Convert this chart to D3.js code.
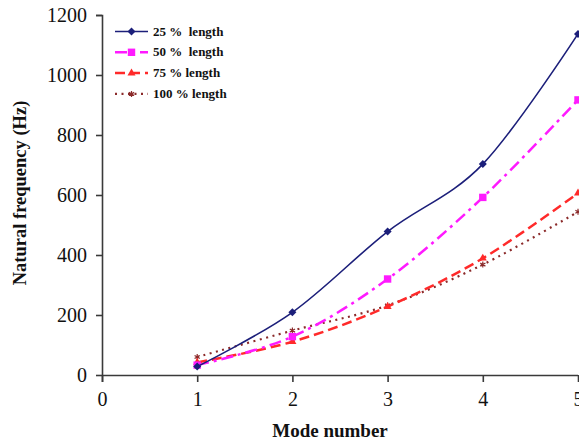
<!DOCTYPE html>
<html><head><meta charset="utf-8">
<script src="https://cdn.jsdelivr.net/npm/d3@7"></script>
<style>body{margin:0;background:#fff}svg{display:block}</style>
</head><body>
<svg id="c" width="579" height="442"></svg>
<script>
const modes = [1, 2, 3, 4, 5];
const len25 = [28, 209, 478, 703, 1137];
const len50 = [33, 128, 320, 592, 917];
const len75 = [42, 111, 228, 389, 606];
const len100 = [60, 148, 232, 368, 544];
const seriesNames = ["25 %  length", "50 %  length", "75 % length", "100 % length"];
const xTicks = [0, 1, 2, 3, 4, 5];
const yTicks = [0, 200, 400, 600, 800, 1000, 1200];

const svg = d3.select("#c");
const x = d3.scaleLinear().domain([0, 5]).range([102, 578]);
const y = d3.scaleLinear().domain([0, 1200]).range([375, 15]);
const font = "'Liberation Serif','Times New Roman',serif";
const axisColor = "#3a3a3a";

// axes
const yAxis = svg.append("g").attr("transform", "translate(102,0)")
  .call(d3.axisLeft(y).tickValues(yTicks).tickSize(6).tickPadding(9).tickFormat(d3.format("d")));
const xAxis = svg.append("g").attr("transform", "translate(0,375)")
  .call(d3.axisBottom(x).tickValues(xTicks).tickSize(7).tickPadding(10).tickFormat(d3.format("d")));
[yAxis, xAxis].forEach(a => {
  a.select(".domain").attr("stroke", axisColor).attr("stroke-width", 1.6);
  a.selectAll(".tick line").attr("stroke", axisColor).attr("stroke-width", 1.6);
  a.selectAll(".tick text").attr("font-family", font).attr("font-size", 20).attr("fill", "#111");
});
yAxis.select(".domain").attr("d", "M-6,15.5H0.5V382");
xAxis.select(".domain").attr("d", "M102,0.5H578");

svg.append("text").attr("x", 330).attr("y", 437).attr("text-anchor", "middle")
  .attr("font-family", font).attr("font-weight", "bold").attr("font-size", 19).attr("fill", "#111")
  .text("Mode number");
svg.append("text").attr("transform", "translate(26,193) rotate(-90)").attr("text-anchor", "middle")
  .attr("font-family", font).attr("font-weight", "bold").attr("font-size", 18.5).attr("fill", "#111")
  .text("Natural frequency (Hz)");

const series = [
  {name: seriesNames[0], vals: len25, color: "#1c1f7a", width: 1.6, dash: null, marker: "diamond"},
  {name: seriesNames[1], vals: len50, color: "#ff1aff", width: 2.5, dash: "12,5,3,5", marker: "square"},
  {name: seriesNames[2], vals: len75, color: "#ff2a2a", width: 2.5, dash: "10,5", marker: "triangle"},
  {name: seriesNames[3], vals: len100, color: "#8b2a2a", width: 2.2, dash: "2,4.5", marker: "star"}
];

const line = d3.line().x(d => x(d[0])).y(d => y(d[1])).curve(d3.curveCardinal.tension(0));
const diamond = { draw(ctx, size) { const r = Math.sqrt(size) / 1.5; ctx.moveTo(0, -r); ctx.lineTo(r, 0); ctx.lineTo(0, r); ctx.lineTo(-r, 0); ctx.closePath(); } };
const symbols = {
  diamond: d3.symbol().type(diamond).size(36),
  square: d3.symbol().type(d3.symbolSquare).size(55),
  triangle: d3.symbol().type(d3.symbolTriangle).size(28),
  star: d3.symbol().type(d3.symbolAsterisk || d3.symbolCross).size(25)
};

// draw in reverse order so 25% is on top
series.slice().reverse().forEach(s => {
  const pts = modes.map((m, i) => [m, s.vals[i]]);
  svg.append("path").attr("d", line(pts)).attr("fill", "none")
    .attr("stroke", s.color).attr("stroke-width", s.width)
    .attr("stroke-dasharray", s.dash);
  svg.selectAll(null).data(pts).enter().append("path")
    .attr("transform", d => `translate(${x(d[0])},${y(d[1])})`)
    .attr("d", symbols[s.marker]())
    .attr("fill", s.marker === "star" ? "none" : s.color)
    .attr("stroke", s.marker === "star" ? s.color : "none")
    .attr("stroke-width", 1.2);
});

// legend
const lg = svg.append("g");
series.forEach((s, i) => {
  const yy = 31.5 + i * 20.8;
  lg.append("line").attr("x1", 115).attr("x2", 148).attr("y1", yy).attr("y2", yy)
    .attr("stroke", s.color).attr("stroke-width", s.width)
    .attr("stroke-dasharray", s.dash);
  lg.append("path").attr("transform", `translate(131.5,${yy})`).attr("d", symbols[s.marker]())
    .attr("fill", s.marker === "star" ? "none" : s.color)
    .attr("stroke", s.marker === "star" ? s.color : "none").attr("stroke-width", 1.2);
  lg.append("text").attr("x", 153).attr("y", yy + 4).attr("font-family", font)
    .attr("font-weight", "bold").attr("font-size", 13).attr("fill", "#111")
    .attr("xml:space", "preserve").style("white-space", "pre").text(s.name);
});
</script>
</body></html>
